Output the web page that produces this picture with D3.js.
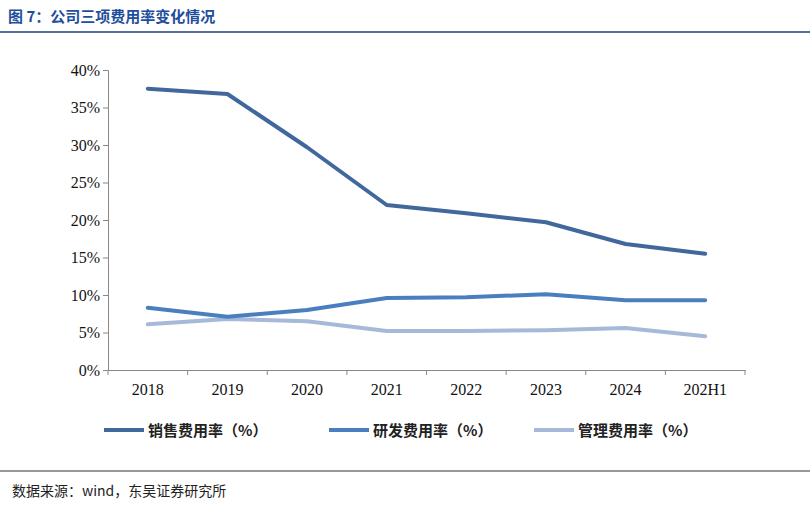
<!DOCTYPE html>
<html><head><meta charset="utf-8">
<script src="https://cdn.jsdelivr.net/npm/d3@7"></script>
<style>body{margin:0;background:#fff}</style>
</head><body><div id="chart"></div>
<script>
const years = ["2018","2019","2020","2021","2022","2023","2024","202H1"];
const salesRate = [37.5,36.8,29.7,22.0,20.9,19.7,16.8,15.5];
const rdRate = [8.3,7.1,8.0,9.6,9.7,10.1,9.3,9.3];
const adminRate = [6.1,6.8,6.5,5.2,5.2,5.3,5.6,4.5];
const yTicks = [0,5,10,15,20,25,30,35,40];
const seriesNames = ["销售费用率（%）","研发费用率（%）","管理费用率（%）"];
const colors = ["#41689c","#4a7fbf","#a6b9d8"];

const svg = d3.select("#chart").append("svg").attr("width",810).attr("height",512);
const cjk = "'Noto Sans CJK SC', sans-serif";
const serif = "'Liberation Serif', 'DejaVu Serif', serif";

svg.append("text").attr("x",8).attr("y",22).attr("fill","#1f4e9c")
  .style("font-family",cjk).style("font-weight","bold").style("font-size","15px")
  .text("图 7：公司三项费用率变化情况");
svg.append("line").attr("x1",0).attr("x2",810).attr("y1",32).attr("y2",32).attr("stroke","#1f3f7a").attr("stroke-width",1.5);
svg.append("line").attr("x1",0).attr("x2",810).attr("y1",471).attr("y2",471).attr("stroke","#333").attr("stroke-width",1);
svg.append("text").attr("x",12).attr("y",496).attr("fill","#222")
  .style("font-family",cjk).style("font-size","14px").text("数据来源：wind，东吴证券研究所");

const x = d3.scaleBand().domain(years).range([108,745]);
const y = d3.scaleLinear().domain([0,40]).range([370,70]);

const yAxis = svg.append("g").attr("transform","translate(108,0)")
  .call(d3.axisLeft(y).tickValues(yTicks).tickFormat(d=>d+"%").tickSize(5));
const xAxis = svg.append("g").attr("transform","translate(0,370)")
  .call(d3.axisBottom(x).tickSize(0).tickPadding(14));
xAxis.append("g").selectAll("line").data(d3.range(years.length+1)).join("line")
  .attr("x1",i=>108+i*x.step()).attr("x2",i=>108+i*x.step()).attr("y1",0).attr("y2",5).attr("stroke","#888");
[yAxis,xAxis].forEach(g=>{
  g.select(".domain").attr("stroke","#888");
  g.selectAll(".tick line").attr("stroke","#888");
  g.selectAll("text").attr("fill","#111").style("font-family",serif).style("font-size","16px");
});

const line = d3.line().x((d,i)=>x(years[i])+x.bandwidth()/2).y(d=>y(d)).curve(d3.curveLinear);
[adminRate,rdRate,salesRate].forEach((s,k)=>{
  svg.append("path").datum(s).attr("d",line).attr("fill","none")
    .attr("stroke",colors[2-k]).attr("stroke-width",4).attr("stroke-linejoin","round").attr("stroke-linecap","round");
});

const legX = [104,329,534];
seriesNames.forEach((n,i)=>{
  const g = svg.append("g").attr("transform",`translate(${legX[i]},430)`);
  g.append("line").attr("x1",0).attr("x2",40).attr("stroke",colors[i]).attr("stroke-width",4);
  g.append("text").attr("x",44).attr("y",6).style("font-family",cjk).style("font-weight","bold")
    .style("font-size","15px").attr("fill","#222").text(n);
});
</script></body></html>
